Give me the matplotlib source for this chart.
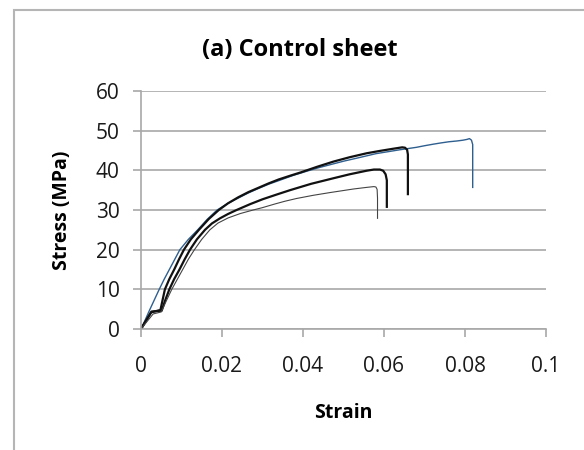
import matplotlib.pyplot as plt
from matplotlib.patches import Rectangle

plt.rcParams["font.family"] = ["Open Sans", "DejaVu Sans"]

# specimen curves (strain, stress in MPa)
blue_strain = [0, 0.001, 0.002, 0.003, 0.0045, 0.0057, 0.007, 0.0083, 0.0096, 0.0117,
               0.014, 0.0163, 0.0188, 0.0215, 0.024, 0.0265, 0.0287, 0.0315, 0.034, 0.0375,
               0.041, 0.044, 0.047, 0.05, 0.053, 0.0555, 0.058, 0.061, 0.064, 0.066,
               0.068, 0.070, 0.0722, 0.074, 0.076, 0.078, 0.0795, 0.0805, 0.0811, 0.0816,
               0.0819, 0.0819]
blue_stress = [0, 2.2, 4.5, 6.7, 10, 12.5, 15, 17.5, 20, 22.6,
               25, 27.6, 30, 31.7, 33, 34.3, 35.3, 36.5, 37.4, 38.7,
               39.8, 40.7, 41.5, 42.3, 43, 43.6, 44.2, 44.7, 45.2, 45.5,
               45.8, 46.2, 46.6, 46.9, 47.2, 47.4, 47.6, 47.8, 48.0, 47.6,
               46.5, 35.7]

upper_strain = [0, 0.0012, 0.0025, 0.0048, 0.0059, 0.0070, 0.0082, 0.0094, 0.0106, 0.0123,
                0.0143, 0.0167, 0.0192, 0.0215, 0.024, 0.0265, 0.029, 0.0315, 0.034, 0.037,
                0.0395, 0.0435, 0.0475, 0.0515, 0.0557, 0.059, 0.062, 0.0645, 0.0652, 0.0657,
                0.0659, 0.0659]
upper_stress = [0, 2.0, 4.2, 4.8, 10, 12.6, 15, 17.6, 20, 22.6,
                25, 27.7, 30, 31.7, 33.2, 34.5, 35.6, 36.7, 37.7, 38.7,
                39.5, 40.9, 42.2, 43.3, 44.3, 44.9, 45.4, 45.8, 45.7, 45.2,
                44, 34.0]

lower_strain = [0, 0.0013, 0.0026, 0.0051, 0.006, 0.007, 0.0082, 0.0095, 0.0108, 0.0121,
                0.0138, 0.0158, 0.0175, 0.0195, 0.0215, 0.0236, 0.027, 0.030, 0.0335, 0.0368,
                0.042, 0.0475, 0.0515, 0.0557, 0.0575, 0.059, 0.0598, 0.0604, 0.0607, 0.0607]
lower_stress = [0, 2.2, 4.4, 4.6, 7.3, 10, 12.6, 15, 17.6, 20,
                22.6, 25, 26.6, 27.9, 29.0, 30, 31.5, 32.7, 33.9, 35.0,
                36.6, 38.0, 39.0, 39.9, 40.2, 40.2, 39.9, 39.0, 37.5, 30.8]

thin_strain = [0, 0.0015, 0.003, 0.005, 0.0063, 0.0076, 0.009, 0.0103, 0.0117, 0.0132,
               0.015, 0.017, 0.019, 0.0215, 0.0245, 0.0277, 0.030, 0.033, 0.0355, 0.0384,
               0.0425, 0.0467, 0.0525, 0.0557, 0.0575, 0.058, 0.0583, 0.0584, 0.0584]
thin_stress = [0, 1.9, 3.8, 4.3, 7.2, 10, 12.6, 15, 17.6, 20,
               22.6, 25, 26.7, 28, 29.1, 30, 30.6, 31.5, 32.2, 32.9,
               33.7, 34.4, 35.3, 35.7, 35.9, 35.8, 35.2, 33, 27.9]

x_ticks = [0, 0.02, 0.04, 0.06, 0.08, 0.1]
x_labels = ["0", "0.02", "0.04", "0.06", "0.08", "0.1"]
y_ticks = [0, 10, 20, 30, 40, 50, 60]

fig = plt.figure(figsize=(5.84, 4.5), dpi=100)
ax = fig.add_axes([141 / 584, 1 - 329 / 450, 405 / 584, 238 / 450])

# chart-area frame (runs off the right and bottom edges)
fig.patches.append(Rectangle((14 / 584, -0.1), 1.2, 1.1 - 10 / 450,
                             transform=fig.transFigure, fill=False,
                             edgecolor="#b5b5b5", linewidth=1.5))

ax.plot(blue_strain, blue_stress, color="#2f5f8f", lw=1.0)
ax.plot(upper_strain, upper_stress, color="#111111", lw=1.6)
ax.plot(lower_strain, lower_stress, color="#111111", lw=1.6)
ax.plot(thin_strain, thin_stress, color="#444444", lw=0.8)

ax.set_xlim(0, 0.1)
ax.set_ylim(0, 60)
ax.set_xticks(x_ticks)
ax.set_xticklabels(x_labels)
ax.set_yticks(y_ticks)
ax.yaxis.grid(True, color="#a8a8a8", lw=1.2)
ax.set_axisbelow(True)

for s in ["top", "right"]:
    ax.spines[s].set_visible(False)
for s in ["left", "bottom"]:
    ax.spines[s].set_color("#a8a8a8")
    ax.spines[s].set_linewidth(1.2)

ax.tick_params(axis="both", colors="#a8a8a8", labelcolor="#1a1a1a",
               labelsize=15, length=5.5, width=1.2)
ax.tick_params(axis="x", pad=14)
ax.tick_params(axis="y", pad=10)

ax.set_xlabel("Strain", fontsize=14, fontweight="bold")
ax.xaxis.label.set_va("center")
ax.xaxis.set_label_coords(0.5, (329 - 413) / 238)
ax.set_ylabel("Stress (MPa)", fontsize=14, fontweight="bold")
ax.yaxis.label.set_va("center")
ax.yaxis.set_label_coords((62 - 141) / 405, 0.5)

fig.text(300 / 584, 1 - 50 / 450, "(a) Control sheet", fontsize=17,
         fontweight="bold", ha="center", va="center")

plt.savefig("out.png", dpi=100)
